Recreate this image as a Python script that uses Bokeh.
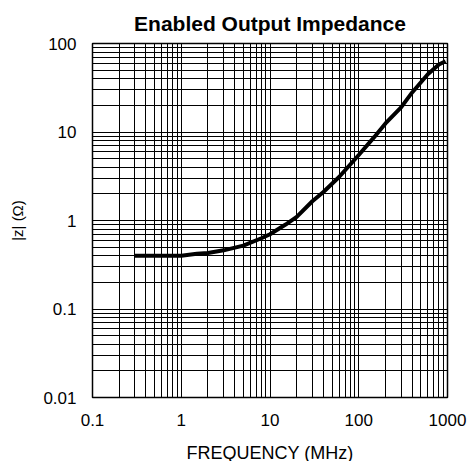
from bokeh.plotting import figure
from bokeh.embed import file_html
from bokeh.resources import INLINE
from bokeh.models import FixedTicker, Title

freq_mhz = [0.3, 0.5, 1, 1.5, 2, 3, 5, 8, 10, 15, 20, 30, 40, 60, 100, 150, 200, 300, 400, 600, 800, 950]
z_ohm = [0.40, 0.40, 0.40, 0.42, 0.43, 0.46, 0.52, 0.63, 0.70, 0.90, 1.1, 1.65, 2.1, 3.1, 5.5, 8.8, 12.5, 19, 28, 45, 58, 63]

x_major = [0.1, 1, 10, 100, 1000]
y_major = [0.01, 0.1, 1, 10, 100]
x_labels = {0.1: "0.1", 1: "1", 10: "10", 100: "100", 1000: "1000"}
y_labels = {0.01: "0.01", 0.1: "0.1", 1: "1", 10: "10", 100: "100"}

def minors(majors):
    out = []
    for m in majors[:-1]:
        for k in range(2, 10):
            out.append(round(m * k, 6))
    return out

p = figure(x_axis_type="log", y_axis_type="log",
           x_range=(0.1, 1000), y_range=(0.01, 100),
           frame_width=355, frame_height=354,
           min_border_left=92, min_border_right=20, min_border_top=10, min_border_bottom=2,
           output_backend="svg", toolbar_location=None)

p.add_layout(Title(text="Enabled Output Impedance", align="center",
                   text_font="Liberation Sans", text_font_size="21px",
                   text_font_style="bold", text_color="black", standoff=18), "above")

p.line(freq_mhz, z_ohm, line_color="black", line_width=4)

p.xaxis.ticker = FixedTicker(ticks=x_major, minor_ticks=minors(x_major))
p.yaxis.ticker = FixedTicker(ticks=y_major, minor_ticks=minors(y_major))
p.xaxis.major_label_overrides = x_labels
p.yaxis.major_label_overrides = y_labels

for ax in (p.xaxis, p.yaxis):
    ax.major_label_text_font = "Liberation Sans"
    ax.major_label_text_font_size = "17px"
    ax.major_label_text_color = "black"
    ax.axis_label_text_font = "Liberation Sans"
    ax.axis_label_text_font_style = "normal"
    ax.axis_label_text_color = "black"
    ax.major_tick_line_color = None
    ax.minor_tick_line_color = None
    ax.axis_line_color = None
    ax.major_label_standoff = 10

p.xaxis.axis_label = "FREQUENCY (MHz)"
p.yaxis.axis_label = "|z| (Ω)"
p.xaxis.axis_label_text_font_size = "18px"
p.yaxis.axis_label_text_font_size = "15px"
p.xaxis.axis_label_standoff = 14
p.yaxis.axis_label_standoff = 14

for g in (p.xgrid, p.ygrid):
    g.grid_line_color = "black"
    g.grid_line_width = 1
    g.minor_grid_line_color = "black"
    g.minor_grid_line_width = 1

p.outline_line_color = "black"
p.outline_line_width = 1.5
p.outline_line_alpha = 1

open("out.html", "w").write(file_html(p, INLINE))
